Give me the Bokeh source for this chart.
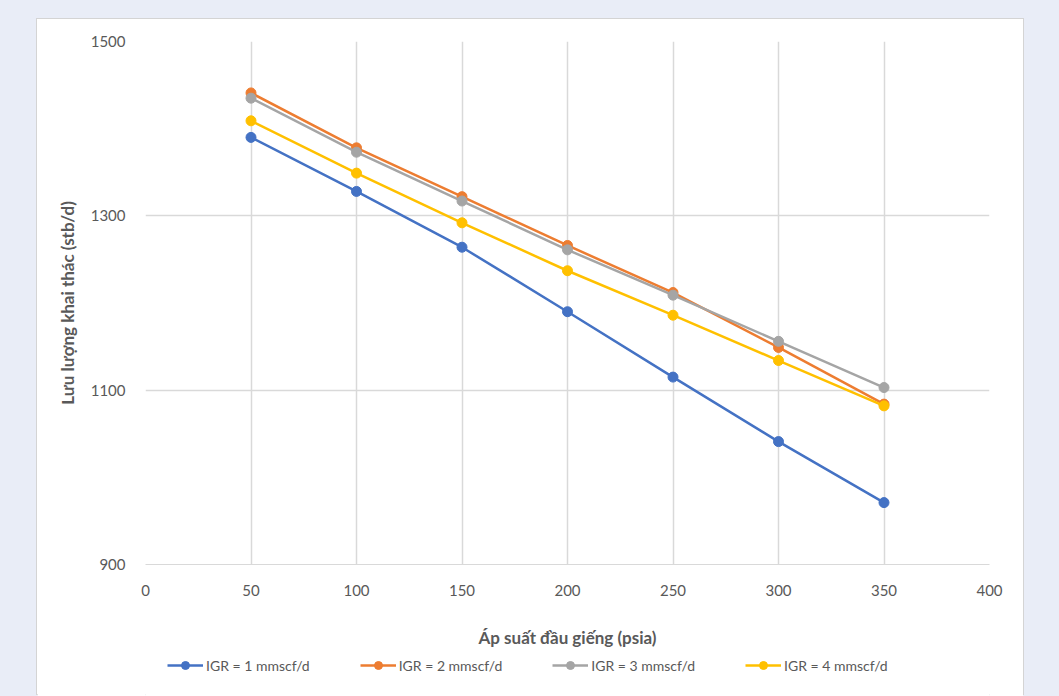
from bokeh.plotting import figure
from bokeh.layouts import column
from bokeh.models import Legend, FixedTicker, Range1d
from bokeh.embed import file_html
from bokeh.resources import INLINE

pressure = [50, 100, 150, 200, 250, 300, 350]
igr1 = [1390, 1328, 1264, 1190, 1115, 1041, 971]
igr2 = [1441, 1378, 1322, 1266, 1212, 1149, 1084]
igr3 = [1435, 1373, 1317, 1261, 1209, 1156, 1103]
igr4 = [1409, 1349, 1292, 1237, 1186, 1134, 1082]
series = [
    ("IGR = 1 mmscf/d", igr1, "#4472C4"),
    ("IGR = 2 mmscf/d", igr2, "#ED7D31"),
    ("IGR = 3 mmscf/d", igr3, "#A5A5A5"),
    ("IGR = 4 mmscf/d", igr4, "#FFC000"),
]
x_ticks = [0, 50, 100, 150, 200, 250, 300, 350, 400]
y_ticks = [900, 1100, 1300, 1500]

FONT = "Lato"
TXT = "#595959"

W = 988
p = figure(width=W, height=631, output_backend="svg", toolbar_location=None,
           x_range=Range1d(0, 400), y_range=Range1d(900, 1500),
           min_border_left=108, min_border_right=34, min_border_top=22, min_border_bottom=86,
           background_fill_color="white", border_fill_color="white")
p.outline_line_color = None

# legend-only strip below the chart (its renderers lie outside its ranges)
lp = figure(width=W, height=46, output_backend="svg", toolbar_location=None,
            x_range=Range1d(-100, -99), y_range=Range1d(-100, -99),
            min_border=0, background_fill_color="white", border_fill_color="white")
lp.outline_line_color = None
lp.axis.visible = False
lp.grid.visible = False

items = []
for name, vals, col in series:
    p.line(pressure, vals, line_color=col, line_width=2.5)
    p.scatter(pressure, vals, size=10, fill_color=col, line_color=col)
    l1 = lp.line(pressure, vals, line_color=col, line_width=2.5)
    l2 = lp.scatter(pressure, vals, size=10, fill_color=col, line_color=col)
    items.append((name, [l1, l2]))

p.xaxis.ticker = FixedTicker(ticks=x_ticks)
p.yaxis.ticker = FixedTicker(ticks=y_ticks)
p.xgrid.ticker = FixedTicker(ticks=x_ticks)
p.ygrid.ticker = FixedTicker(ticks=y_ticks)
for g in (p.xgrid, p.ygrid):
    g.grid_line_color = "#d9d9d9"
    g.grid_line_width = 1.5

for ax in (p.xaxis, p.yaxis):
    ax.major_tick_line_color = None
    ax.minor_tick_line_color = None
    ax.major_label_text_font = FONT
    ax.major_label_text_font_size = "15px"
    ax.major_label_text_color = TXT
    ax.axis_label_text_font = FONT
    ax.axis_label_text_font_size = "17px"
    ax.axis_label_text_font_style = "bold"
    ax.axis_label_text_color = TXT
p.xaxis.axis_line_color = "#d9d9d9"
p.yaxis.axis_line_color = None
p.xaxis.major_label_standoff = 14
p.yaxis.major_label_standoff = 14
p.xaxis.axis_label = "Áp suất đầu giếng (psia)"
p.yaxis.axis_label = "Lưu lượng khai thác (stb/d)"
p.xaxis.axis_label_standoff = 28
p.yaxis.axis_label_standoff = 10

legend = Legend(items=items, orientation="horizontal", location=(22, 21),
                border_line_color=None, background_fill_alpha=0,
                label_text_font=FONT, label_text_font_size="14px", label_text_color=TXT,
                glyph_width=36, label_standoff=3, spacing=50, padding=0, margin=0)
lp.add_layout(legend, "center")

card = column(p, lp, width=W, height=677, spacing=0,
              styles={"background-color": "white", "border": "1px solid #d4d4d4"})
card.margin = (18, 0, 0, 36)
layout = column(card, width=1059, height=696, styles={"background-color": "#e9edf7"})
open("out.html", "w").write(file_html(layout, INLINE))
